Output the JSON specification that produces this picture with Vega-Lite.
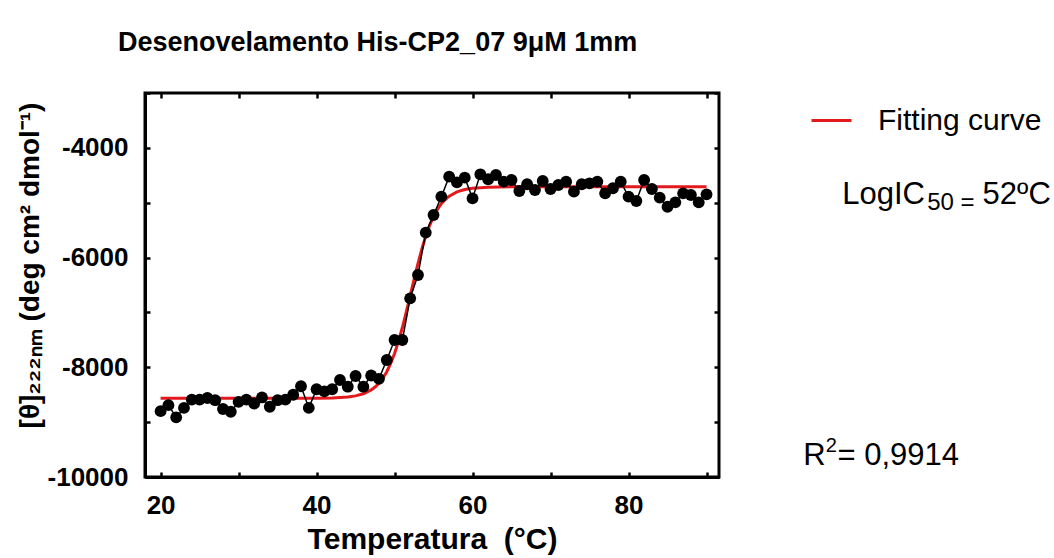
{
  "$schema": "https://vega.github.io/schema/vega-lite/v6.json",
  "autosize": {"type": "none"},
  "width": 574,
  "height": 384,
  "padding": {"left": 145, "top": 93, "right": 335, "bottom": 81},
  "background": "white",
  "title": {
    "text": "Desenovelamento His-CP2_07 9μM 1mm",
    "anchor": "start",
    "frame": "group",
    "dx": -27,
    "offset": 14,
    "baseline": "alphabetic",
    "font": "Liberation Sans",
    "fontSize": 27,
    "fontWeight": "bold",
    "color": "black"
  },
  "config": {
    "view": {"stroke": "black", "strokeWidth": 3},
    "axis": {
      "grid": false,
      "domainColor": "black",
      "domainWidth": 3,
      "tickColor": "black",
      "tickWidth": 2.5,
      "tickSize": -5,
      "labelColor": "black",
      "labelFont": "Liberation Sans",
      "labelFontWeight": "bold",
      "labelFontSize": 26,
      "titleColor": "black",
      "titleFont": "Liberation Sans",
      "titleFontWeight": "bold"
    }
  },
  "resolve": {"axis": {"x": "independent", "y": "independent"}},
  "datasets": {
    "pts": [
      {"T": 20, "v": -8800}, {"T": 21, "v": -8690}, {"T": 22, "v": -8912}, {"T": 23, "v": -8740},
      {"T": 24, "v": -8590}, {"T": 25, "v": -8590}, {"T": 26, "v": -8560}, {"T": 27, "v": -8600},
      {"T": 28, "v": -8760}, {"T": 29, "v": -8810}, {"T": 30, "v": -8630}, {"T": 31, "v": -8590},
      {"T": 32, "v": -8660}, {"T": 33, "v": -8550}, {"T": 34, "v": -8720}, {"T": 35, "v": -8600},
      {"T": 36, "v": -8590}, {"T": 37, "v": -8500}, {"T": 38, "v": -8345}, {"T": 39, "v": -8740},
      {"T": 40, "v": -8400}, {"T": 41, "v": -8440}, {"T": 42, "v": -8400}, {"T": 43, "v": -8232},
      {"T": 44, "v": -8354}, {"T": 45, "v": -8159}, {"T": 46, "v": -8354}, {"T": 47, "v": -8150},
      {"T": 48, "v": -8210}, {"T": 49, "v": -7867}, {"T": 50, "v": -7503}, {"T": 51, "v": -7503},
      {"T": 52, "v": -6743}, {"T": 53, "v": -6318}, {"T": 54, "v": -5545}, {"T": 55, "v": -5224},
      {"T": 56, "v": -4890}, {"T": 57, "v": -4525}, {"T": 58, "v": -4628}, {"T": 59, "v": -4543},
      {"T": 60, "v": -4920}, {"T": 61, "v": -4482}, {"T": 62, "v": -4573}, {"T": 63, "v": -4495},
      {"T": 64, "v": -4616}, {"T": 65, "v": -4586}, {"T": 66, "v": -4787}, {"T": 67, "v": -4664},
      {"T": 68, "v": -4768}, {"T": 69, "v": -4604}, {"T": 70, "v": -4750}, {"T": 71, "v": -4677},
      {"T": 72, "v": -4616}, {"T": 73, "v": -4798}, {"T": 74, "v": -4664}, {"T": 75, "v": -4646},
      {"T": 76, "v": -4616}, {"T": 77, "v": -4829}, {"T": 78, "v": -4737}, {"T": 79, "v": -4616},
      {"T": 80, "v": -4890}, {"T": 81, "v": -4969}, {"T": 82, "v": -4586}, {"T": 83, "v": -4750},
      {"T": 84, "v": -4908}, {"T": 85, "v": -5073}, {"T": 86, "v": -4993}, {"T": 87, "v": -4829},
      {"T": 88, "v": -4860}, {"T": 89, "v": -4993}, {"T": 90, "v": -4847}
    ],
    "fit": [
      {"T": 20, "v": -8566, "s": "Fitting curve"}, {"T": 30, "v": -8566, "s": "Fitting curve"},
      {"T": 40, "v": -8564, "s": "Fitting curve"}, {"T": 42, "v": -8558, "s": "Fitting curve"},
      {"T": 44, "v": -8542, "s": "Fitting curve"}, {"T": 45, "v": -8521, "s": "Fitting curve"},
      {"T": 46, "v": -8483, "s": "Fitting curve"}, {"T": 47, "v": -8413, "s": "Fitting curve"},
      {"T": 47.5, "v": -8360, "s": "Fitting curve"}, {"T": 48, "v": -8290, "s": "Fitting curve"},
      {"T": 48.5, "v": -8200, "s": "Fitting curve"}, {"T": 49, "v": -8080, "s": "Fitting curve"},
      {"T": 49.5, "v": -7930, "s": "Fitting curve"}, {"T": 50, "v": -7749, "s": "Fitting curve"},
      {"T": 50.5, "v": -7528, "s": "Fitting curve"}, {"T": 51, "v": -7275, "s": "Fitting curve"},
      {"T": 51.5, "v": -6994, "s": "Fitting curve"}, {"T": 52, "v": -6697, "s": "Fitting curve"},
      {"T": 52.5, "v": -6397, "s": "Fitting curve"}, {"T": 53, "v": -6108, "s": "Fitting curve"},
      {"T": 53.5, "v": -5843, "s": "Fitting curve"}, {"T": 54, "v": -5610, "s": "Fitting curve"},
      {"T": 54.5, "v": -5412, "s": "Fitting curve"}, {"T": 55, "v": -5249, "s": "Fitting curve"},
      {"T": 55.5, "v": -5120, "s": "Fitting curve"}, {"T": 56, "v": -5018, "s": "Fitting curve"},
      {"T": 56.5, "v": -4942, "s": "Fitting curve"}, {"T": 57, "v": -4880, "s": "Fitting curve"},
      {"T": 58, "v": -4802, "s": "Fitting curve"}, {"T": 59, "v": -4759, "s": "Fitting curve"},
      {"T": 60, "v": -4735, "s": "Fitting curve"}, {"T": 62, "v": -4716, "s": "Fitting curve"},
      {"T": 65, "v": -4710, "s": "Fitting curve"}, {"T": 70, "v": -4708, "s": "Fitting curve"},
      {"T": 90, "v": -4708, "s": "Fitting curve"}
    ],
    "notes": [
      {"T": 107.4, "v": -4860, "label": "LogIC"},
      {"T": 125.4, "v": -4860, "label": "52ºC"},
      {"T": 102.4, "v": -9617, "label": "R"},
      {"T": 106.8, "v": -9617, "label": "= 0,9914"}
    ],
    "subs": [
      {"T": 118.3, "v": -5010, "label": "50 ="}
    ],
    "sups": [
      {"T": 105.3, "v": -9440, "label": "2"}
    ]
  },
  "layer": [
    {
      "data": {"name": "fit"},
      "mark": {"type": "line", "strokeWidth": 3, "clip": false},
      "encoding": {
        "x": {
          "field": "T", "type": "quantitative",
          "scale": {"domain": [18, 91.6], "nice": false, "zero": false},
          "axis": {"orient": "top", "values": [20, 30, 40, 50, 60, 70, 80, 90], "labels": false, "title": null, "domain": false}
        },
        "y": {
          "field": "v", "type": "quantitative",
          "scale": {"domain": [-10000, -3000], "nice": false, "zero": false},
          "axis": {"orient": "right", "values": [-10000, -9000, -8000, -7000, -6000, -5000, -4000, -3000], "labels": false, "title": null, "domain": false}
        },
        "color": {
          "field": "s", "type": "nominal",
          "scale": {"domain": ["Fitting curve"], "range": ["#e3191c"]},
          "legend": {
            "title": null,
            "orient": "none",
            "legendX": 665,
            "legendY": 6,
            "symbolType": "stroke",
            "symbolStrokeWidth": 3,
            "symbolSize": 1600,
            "labelFont": "Liberation Sans",
            "labelFontSize": 30,
            "labelFontWeight": "normal",
            "labelColor": "black",
            "labelOffset": 25,
            "labelLimit": 400
          }
        }
      }
    },
    {
      "data": {"name": "pts"},
      "mark": {"type": "line", "color": "black", "strokeWidth": 1.5},
      "encoding": {
        "x": {
          "field": "T", "type": "quantitative",
          "axis": {
            "orient": "bottom",
            "values": [20, 30, 40, 50, 60, 70, 80, 90],
            "labelExpr": "datum.value % 20 === 0 ? datum.label : ''",
            "labelPadding": 20,
            "title": "Temperatura \u00a0(°C)",
            "titleFontSize": 30,
            "titlePadding": 6
          }
        },
        "y": {
          "field": "v", "type": "quantitative",
          "axis": {
            "orient": "left",
            "values": [-10000, -9000, -8000, -7000, -6000, -5000, -4000, -3000],
            "labelExpr": "datum.value % 2000 === 0 ? '' + datum.value : ''",
            "labelPadding": 22,
            "title": "[θ]₂₂₂ₙₘ (deg cm² dmol⁻¹)",
            "titleFontSize": 28,
            "titlePadding": 3,
            "titleY": 172
          }
        }
      }
    },
    {
      "data": {"name": "pts"},
      "mark": {"type": "point", "filled": true, "color": "black", "size": 140, "opacity": 1},
      "encoding": {
        "x": {"field": "T", "type": "quantitative", "axis": null},
        "y": {"field": "v", "type": "quantitative", "axis": null}
      }
    },
    {
      "data": {"name": "notes"},
      "mark": {"type": "text", "align": "left", "baseline": "middle", "font": "Liberation Sans", "fontSize": 31, "color": "black"},
      "encoding": {
        "x": {"field": "T", "type": "quantitative", "axis": null},
        "y": {"field": "v", "type": "quantitative", "axis": null},
        "text": {"field": "label"}
      }
    },
    {
      "data": {"name": "subs"},
      "mark": {"type": "text", "align": "left", "baseline": "middle", "font": "Liberation Sans", "fontSize": 24, "color": "black"},
      "encoding": {
        "x": {"field": "T", "type": "quantitative", "axis": null},
        "y": {"field": "v", "type": "quantitative", "axis": null},
        "text": {"field": "label"}
      }
    },
    {
      "data": {"name": "sups"},
      "mark": {"type": "text", "align": "left", "baseline": "middle", "font": "Liberation Sans", "fontSize": 20, "color": "black"},
      "encoding": {
        "x": {"field": "T", "type": "quantitative", "axis": null},
        "y": {"field": "v", "type": "quantitative", "axis": null},
        "text": {"field": "label"}
      }
    }
  ]
}
